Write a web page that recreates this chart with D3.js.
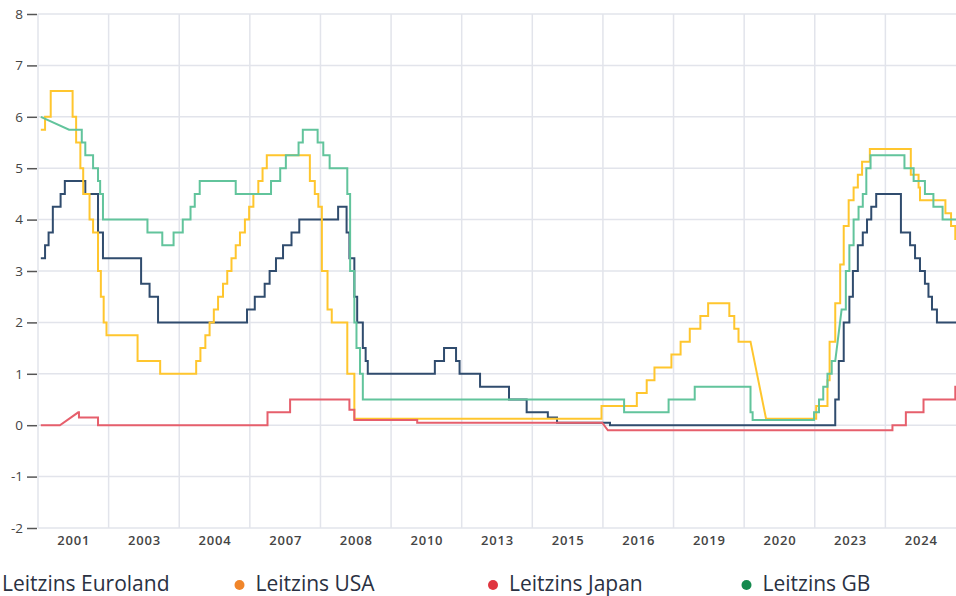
<html>
  <head>
    <meta charset="utf-8">
    <title>Leitzinsen</title>
    <style>
      body { margin: 0; background: #fff; }
      svg { display: block; }
    </style>
  </head>
  <body>
    <script src="https://d3js.org/d3.v7.min.js"></script>
    <script>
      // x values are measured in axis steps: one step per labelled band
      // each entry is [step, rate]; a third value of 1 means the line ramps
      // straight to that point instead of stepping
      var yearLabels = ['2001', '2003', '2004', '2007', '2008', '2010', '2013',
                        '2015', '2016', '2019', '2020', '2023', '2024'];
      var yTicks = [-2, -1, 0, 1, 2, 3, 4, 5, 6, 7, 8];

      var euroland = [
        [0.04, 3.25], [0.10, 3.5], [0.15, 3.75], [0.21, 4.25], [0.32, 4.5], [0.38, 4.75],
        [0.67, 4.5], [0.85, 3.75], [0.92, 3.25], [1.46, 2.75], [1.58, 2.5], [1.70, 2.0],
        [2.96, 2.25], [3.07, 2.5], [3.21, 2.75], [3.28, 3.0], [3.37, 3.25], [3.47, 3.5],
        [3.59, 3.75], [3.70, 4.0], [4.25, 4.25], [4.37, 3.75], [4.41, 3.25], [4.48, 2.5],
        [4.52, 2.0], [4.60, 1.5], [4.64, 1.25], [4.67, 1.0], [5.62, 1.25], [5.75, 1.5],
        [5.92, 1.25], [5.97, 1.0], [6.26, 0.75], [6.67, 0.5], [6.92, 0.25], [7.22, 0.15],
        [7.35, 0.05], [8.10, 0.0], [11.29, 0.5], [11.34, 1.25], [11.41, 2.0], [11.49, 2.5],
        [11.54, 3.0], [11.61, 3.5], [11.68, 3.75], [11.74, 4.0], [11.80, 4.25], [11.87, 4.5],
        [12.22, 3.75], [12.35, 3.5], [12.42, 3.25], [12.49, 3.0], [12.56, 2.75], [12.61, 2.5],
        [12.66, 2.25], [12.73, 2.0], [13.0, 2.0]
      ];

      var usa = [
        [0.04, 5.75], [0.10, 6.0], [0.18, 6.5], [0.49, 6.0], [0.54, 5.5], [0.60, 5.0],
        [0.64, 4.5], [0.73, 4.0], [0.78, 3.75], [0.85, 3.0], [0.89, 2.5], [0.93, 2.0],
        [0.97, 1.75], [1.41, 1.25], [1.73, 1.0], [2.24, 1.25], [2.30, 1.5], [2.37, 1.75],
        [2.43, 2.0], [2.49, 2.25], [2.55, 2.5], [2.62, 2.75], [2.68, 3.0], [2.74, 3.25],
        [2.80, 3.5], [2.86, 3.75], [2.93, 4.0], [2.99, 4.25], [3.05, 4.5], [3.12, 4.75],
        [3.18, 5.0], [3.24, 5.25], [3.85, 4.75], [3.92, 4.5], [3.97, 4.25], [4.02, 3.0],
        [4.10, 2.25], [4.16, 2.0], [4.38, 1.0], [4.48, 0.125], [7.98, 0.375], [8.48, 0.625],
        [8.62, 0.875], [8.73, 1.125], [8.97, 1.375], [9.10, 1.625], [9.23, 1.875],
        [9.38, 2.125], [9.49, 2.375], [9.79, 2.125], [9.86, 1.875], [9.92, 1.625],
        [10.09, 1.625], [10.31, 0.125, 1], [11.02, 0.375], [11.18, 0.875], [11.21, 1.625],
        [11.29, 2.375], [11.36, 3.125], [11.41, 3.875], [11.48, 4.375], [11.55, 4.625],
        [11.61, 4.875], [11.67, 5.125], [11.78, 5.375], [12.36, 4.875], [12.47, 4.625],
        [12.49, 4.375], [12.85, 4.125], [12.93, 3.875], [12.99, 3.625], [13.0, 3.625]
      ];

      var japan = [
        [0.04, 0.0], [0.31, 0.0], [0.57, 0.25, 1], [0.58, 0.15], [0.85, 0.0], [3.25, 0.25],
        [3.57, 0.5], [4.41, 0.3], [4.48, 0.1], [5.37, 0.05], [7.99, 0.05], [8.07, -0.1, 1],
        [12.10, 0.0], [12.29, 0.25], [12.54, 0.5], [12.99, 0.75], [13.0, 0.75]
      ];

      var gb = [
        [0.04, 6.0], [0.44, 5.75, 1], [0.62, 5.5], [0.67, 5.25], [0.78, 5.0], [0.85, 4.75],
        [0.88, 4.5], [0.92, 4.0], [1.55, 3.75], [1.76, 3.5], [1.92, 3.75], [2.05, 4.0],
        [2.16, 4.25], [2.22, 4.5], [2.29, 4.75], [2.80, 4.5], [3.30, 4.75], [3.43, 5.0],
        [3.51, 5.25], [3.69, 5.5], [3.75, 5.75], [3.96, 5.5], [4.04, 5.25], [4.13, 5.0],
        [4.38, 4.5], [4.42, 3.0], [4.48, 2.0], [4.51, 1.5], [4.56, 1.0], [4.60, 0.5],
        [8.30, 0.25], [8.93, 0.5], [9.30, 0.75], [10.09, 0.25], [10.12, 0.1], [10.99, 0.25],
        [11.06, 0.5], [11.12, 0.75], [11.18, 1.0], [11.24, 1.25], [11.29, 1.25],
        [11.38, 2.25, 1], [11.44, 3.0], [11.49, 3.5], [11.55, 4.0], [11.62, 4.25],
        [11.68, 4.5], [11.73, 5.0], [11.79, 5.25], [12.27, 5.0], [12.40, 4.75],
        [12.56, 4.5], [12.68, 4.25], [12.81, 4.0], [13.0, 4.0]
      ];

      var seriesNames = ['Leitzins Euroland', 'Leitzins USA', 'Leitzins Japan', 'Leitzins GB'];
      var seriesData = [euroland, usa, japan, gb];

      var WIDTH = 956;
      var HEIGHT = 596;
      var margin = { top: 14, right: 0, bottom: 68, left: 38 };

      // line colours and the (different) legend dot colours
      var lineColors = ['#304c6e', '#ffc62e', '#e65f6c', '#62c49c'];
      var dotColors = ['#304c6e', '#f0852a', '#e0353f', '#148a4e'];

      var svg = d3.select('body')
        .append('svg')
        .attr('width', WIDTH)
        .attr('height', HEIGHT);

      var x = d3.scaleLinear()
        .domain([0, yearLabels.length])
        .range([margin.left, WIDTH - margin.right]);

      var y = d3.scaleLinear()
        .domain([-2, 8])
        .range([HEIGHT - margin.bottom, margin.top]);

      // Horizontal grid
      svg.append('g')
        .selectAll('line')
        .data(yTicks)
        .join('line')
        .attr('x1', x(0))
        .attr('x2', x(yearLabels.length))
        .attr('y1', function(d) { return y(d); })
        .attr('y2', function(d) { return y(d); })
        .attr('stroke', '#e2e4eb')
        .attr('stroke-width', 1.5);

      // Vertical grid at band edges
      svg.append('g')
        .selectAll('line')
        .data(d3.range(0, yearLabels.length))
        .join('line')
        .attr('x1', function(d) { return x(d); })
        .attr('x2', function(d) { return x(d); })
        .attr('y1', y(8))
        .attr('y2', y(-2))
        .attr('stroke', '#e2e4eb')
        .attr('stroke-width', 1.5);

      // Y axis (plain hyphen for negatives, as in the source)
      var yAxis = svg.append('g')
        .attr('transform', 'translate(' + (margin.left - 1) + ',0)')
        .call(d3.axisLeft(y).tickValues(yTicks).tickSize(10).tickPadding(4)
          .tickFormat(function(d) { return String(d); }));
      yAxis.select('.domain').remove();
      yAxis.selectAll('.tick line').attr('stroke', '#555').attr('stroke-width', 1.5);
      yAxis.selectAll('.tick text')
        .attr('font-family', 'Open Sans')
        .attr('font-size', '13.5px')
        .attr('fill', '#444');

      // X axis labels, centred in each band
      var xAxis = svg.append('g')
        .attr('transform', 'translate(0,' + y(-2) + ')')
        .call(d3.axisBottom(x)
          .tickValues(d3.range(0, yearLabels.length).map(function(i) { return i + 0.5; }))
          .tickSize(0)
          .tickPadding(8)
          .tickFormat(function(d) { return yearLabels[Math.floor(d)]; }));
      xAxis.select('.domain').remove();
      xAxis.selectAll('.tick text')
        .attr('font-family', 'Open Sans')
        .attr('font-size', '13px')
        .attr('font-weight', 600)
        .attr('letter-spacing', '0.8px')
        .attr('fill', '#444');

      // Turn breakpoint lists into drawable points
      function toPoints(s) {
        var pts = [[s[0][0], s[0][1]]];
        for (var i = 1; i < s.length; i++) {
          if (!s[i][2]) pts.push([s[i][0], s[i - 1][1]]);
          pts.push([s[i][0], s[i][1]]);
        }
        return pts;
      }

      var line = d3.line()
        .x(function(d) { return x(d[0]); })
        .y(function(d) { return y(d[1]); });

      svg.append('g')
        .selectAll('path')
        .data(seriesData)
        .join('path')
        .attr('d', function(d) { return line(toPoints(d)); })
        .attr('fill', 'none')
        .attr('stroke', function(d, i) { return lineColors[i]; })
        .attr('stroke-width', 2)
        .attr('stroke-linejoin', 'miter');

      // Legend (first dot sits off the left edge, as in the source)
      var legend = svg.append('g')
        .selectAll('g')
        .data(seriesNames)
        .join('g')
        .attr('transform', function(d, i) { return 'translate(' + (2 + i * 253.5) + ',585)'; });

      legend.append('circle')
        .attr('cx', -16)
        .attr('r', 5)
        .attr('fill', function(d, i) { return dotColors[i]; });

      legend.append('text')
        .text(function(d) { return d; })
        .attr('y', 5.5)
        .attr('font-family', 'Open Sans')
        .attr('font-size', '21px')
        .attr('fill', '#2a3142');
    </script>
  </body>
</html>
